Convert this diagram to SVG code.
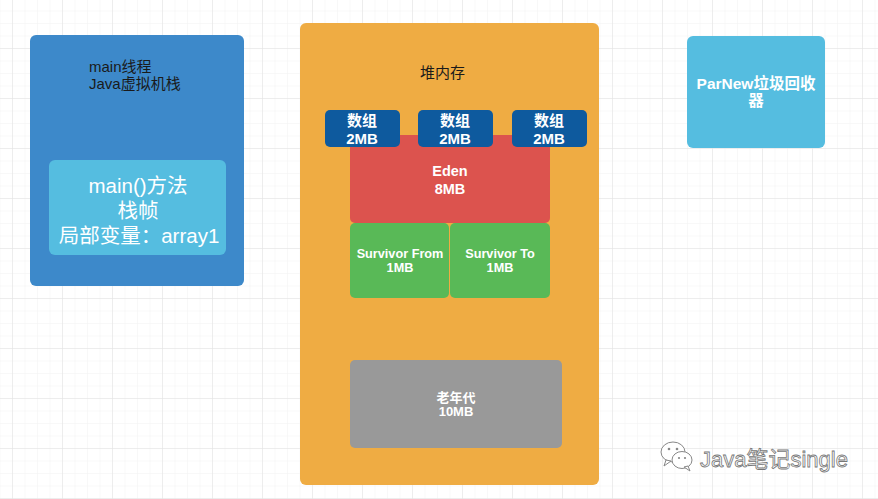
<svg xmlns="http://www.w3.org/2000/svg" width="878" height="499" viewBox="0 0 878 499">
<defs>
<pattern id="minor" width="12.5" height="12.5" patternUnits="userSpaceOnUse" x="12" y="-2">
<path d="M0 0H12.5M0 0V12.5" fill="none" stroke="#f2f2f2" stroke-width="1"/>
</pattern>
<pattern id="major" width="50" height="50" patternUnits="userSpaceOnUse" x="12" y="-2">
<path d="M0 0H50M0 0V50" fill="none" stroke="#e2e2e2" stroke-width="1"/>
</pattern>
</defs>
<style>
.t{font-family:"Liberation Sans","Noto Sans CJK SC",sans-serif;}
.w{fill:#fff;font-weight:bold;text-anchor:middle;}
.s12{font-size:12.7px;}
.s13{font-size:13px;}
.s15{font-size:15px;}
.d{fill:#1a1a1a;font-size:15px;}
.f{fill:#fff;font-size:20.5px;text-anchor:middle;}
</style>
<rect width="878" height="499" fill="#fff"/>
<rect width="878" height="499" fill="url(#minor)"/>
<rect width="878" height="499" fill="url(#major)"/>

<g id="stack">
<rect x="30" y="35" width="214" height="251" rx="6" fill="#3d89ca"/>
<text class="t d" x="89" y="72">main线程</text>
<text class="t d" x="89" y="89">Java虚拟机栈</text>
</g>
<g id="frame">
<rect x="49" y="160" width="177" height="95" rx="6" fill="#55bde0"/>
<text class="t f" x="138" y="193">main()方法</text>
<text class="t f" x="138" y="218">栈帧</text>
<text class="t f" x="139" y="243">局部变量：array1</text>
</g>

<g id="heap">
<rect x="300" y="23" width="299" height="462" rx="6" fill="#efac43"/>
<text class="t d" x="420" y="78">堆内存</text>
</g>
<g id="eden">
<rect x="350" y="135" width="200" height="88" rx="5" fill="#dc534e"/>
<text class="t w" x="450" y="176" style="font-size:14.5px">Eden</text>
<text class="t w" x="450" y="194" style="font-size:14.5px">8MB</text>
</g>
<g id="arr1">
<rect x="325" y="110" width="75" height="37" rx="5" fill="#0e5a9e"/>
<text class="t w s15" x="362" y="126">数组</text>
<text class="t w s15" x="362" y="144">2MB</text>
</g>
<g id="arr2">
<rect x="418" y="110" width="75" height="37" rx="5" fill="#0e5a9e"/>
<text class="t w s15" x="455" y="126">数组</text>
<text class="t w s15" x="455" y="144">2MB</text>
</g>
<g id="arr3">
<rect x="512" y="110" width="75" height="37" rx="5" fill="#0e5a9e"/>
<text class="t w s15" x="549" y="126">数组</text>
<text class="t w s15" x="549" y="144">2MB</text>
</g>
<g id="surfrom">
<rect x="350" y="223" width="99" height="75" rx="5" fill="#59b957"/>
<text class="t w s12" x="400" y="258">Survivor From</text>
<text class="t w s12" x="400" y="272">1MB</text>
</g>
<g id="surto">
<rect x="450" y="223" width="100" height="75" rx="5" fill="#59b957"/>
<text class="t w s12" x="500" y="258">Survivor To</text>
<text class="t w s12" x="500" y="272">1MB</text>
</g>
<g id="old">
<rect x="350" y="360" width="212" height="88" rx="5" fill="#999999"/>
<text class="t w s13" x="456" y="402">老年代</text>
<text class="t w s13" x="456" y="416">10MB</text>
</g>

<g id="parnew">
<rect x="687" y="36" width="138" height="112" rx="6" fill="#55bde0"/>
<text class="t w" x="756" y="89" style="font-size:15.5px">ParNew垃圾回收</text>
<text class="t w" x="756" y="106" style="font-size:15.5px">器</text>
</g>

<g id="connectors"></g>

<g id="watermark">
<g fill="#fff" stroke="#888" stroke-width="1">
<ellipse cx="673" cy="452" rx="12" ry="10"/>
<path d="M666 460 L664 466 L671 461 Z"/>
<ellipse cx="682" cy="460" rx="10" ry="8.5"/>
<path d="M688 466 L690 471 L684 467 Z"/>
</g>
<circle cx="669" cy="449" r="1.3" fill="#888"/>
<circle cx="677" cy="449" r="1.3" fill="#888"/>
<circle cx="679" cy="458" r="1.1" fill="#888"/>
<circle cx="685" cy="458" r="1.1" fill="#888"/>
<text class="t" x="700" y="467" font-size="22" fill="#fff" stroke="#777" stroke-width="0.8">Java笔记single</text>
</g>
</svg>
